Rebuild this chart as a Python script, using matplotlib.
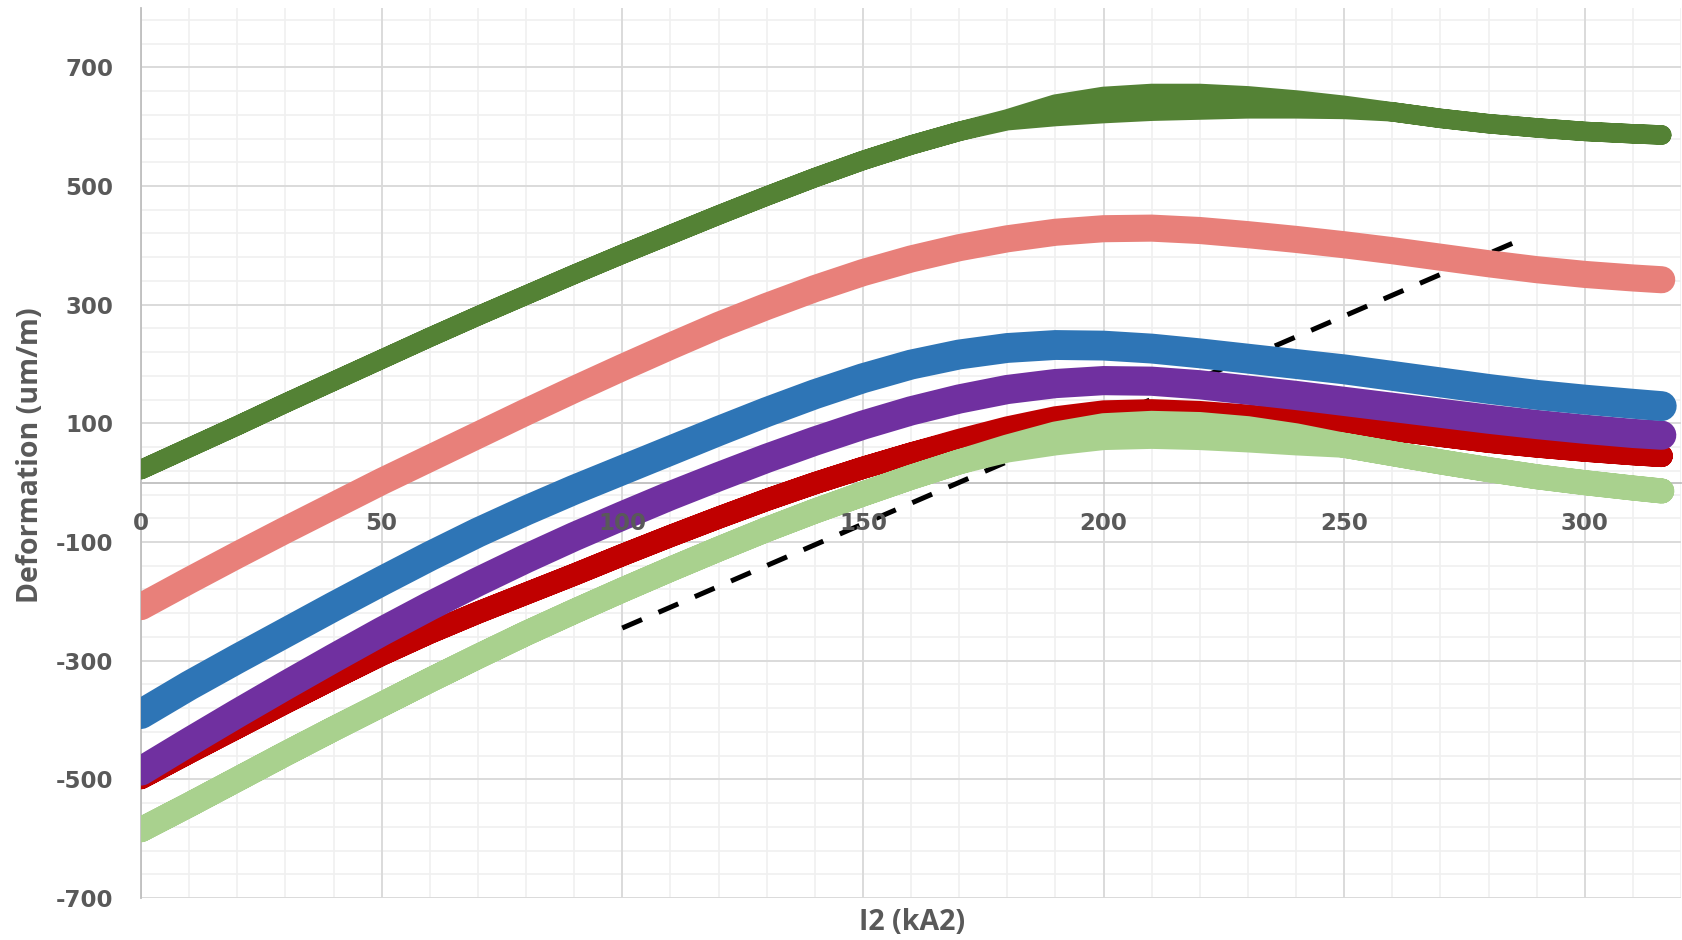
import numpy as np
import matplotlib.pyplot as plt
from matplotlib.ticker import FixedLocator

plt.rcParams['font.family'] = ['DejaVu Sans']
plt.rcParams['axes.unicode_minus'] = False

# I2 (kA2) sampling points
x_pts = [0, 10, 20, 30, 40, 50, 60, 70, 80, 90, 100, 110, 120, 130, 140, 150,
         160, 170, 180, 190, 200, 210, 220, 230, 240, 250, 260, 270, 280, 290,
         300, 310, 316]

# deformation (um/m); *_up / *_dn are the two branches where the loop opens
dark_green_up = [22, 59, 96, 134, 171, 208, 245, 281, 316, 351, 385, 418, 451,
                 483, 514, 543, 569, 592, 613, 638, 651, 656, 656, 652, 645,
                 636, 625, 614, 605, 598, 592, 588, 586]
dark_green_dn = [22, 59, 96, 134, 171, 208, 245, 281, 316, 351, 385, 418, 451,
                 483, 514, 543, 569, 592, 610, 617, 622, 626, 628, 630, 630,
                 629, 625, 614, 605, 598, 592, 588, 586]
salmon = [-209, -165, -122, -80, -39, 2, 41, 80, 119, 157, 194, 230, 265, 297,
          327, 354, 377, 396, 411, 422, 428, 429, 425, 418, 410, 401, 391, 380,
          369, 359, 351, 345, 342]
blue = [-390, -342, -297, -253, -209, -166, -124, -84, -47, -12, 21, 54, 87,
        119, 149, 176, 199, 216, 227, 232, 231, 226, 218, 209, 200, 191, 180,
        169, 158, 148, 140, 133, 129]
purple = [-486, -437, -389, -342, -296, -251, -208, -167, -128, -91, -56, -22,
          10, 41, 70, 97, 121, 141, 157, 167, 172, 171, 165, 156, 147, 137, 127,
          117, 107, 98, 90, 83, 80]
red_up = [-498, -455, -413, -371, -330, -290, -253, -219, -187, -155, -122,
          -90, -59, -29, -1, 25, 49, 72, 93, 110, 120, 122, 119, 113, 106, 98,
          89, 79, 69, 61, 54, 48, 45]
red_dn = [-498, -455, -413, -371, -330, -290, -253, -219, -187, -155, -122,
          -90, -59, -29, -1, 25, 49, 70, 80, 87, 91, 92, 91, 92, 97, 98, 89,
          79, 69, 61, 54, 48, 45]
light_green_up = [-585, -543, -500, -457, -415, -374, -333, -293, -254, -217,
                  -181, -146, -112, -79, -48, -19, 9, 35, 60, 82, 96, 100, 98,
                  91, 79, 63, 49, 35, 22, 10, 0, -9, -14]
light_green_dn = [-585, -543, -500, -457, -415, -374, -333, -293, -254, -217,
                  -181, -146, -112, -79, -48, -19, 9, 35, 55, 67, 76, 78, 76,
                  72, 67, 63, 49, 35, 22, 10, 0, -9, -14]

# dashed reference line
ref_x = [100, 286]
ref_y = [-245, 407]

y_ticks = [-700, -500, -300, -100, 100, 300, 500, 700]
x_ticks = [0, 50, 100, 150, 200, 250, 300]


def loop(up, dn):
    # out along one branch, back along the other
    xs = list(x_pts) + list(x_pts[::-1])
    ys = list(up) + list(dn[::-1])
    return xs, ys


fig = plt.figure(figsize=(16.83, 9.40), dpi=100)
ax = fig.add_axes([141 / 1683, 1 - 898 / 940, 1540 / 1683, 890 / 940])

# grid drawn by hand so the tick labels can sit above the curves
for v in np.arange(0, 321, 10):
    ax.axvline(v, color='#F0F0F0', lw=1.2, zorder=0)
for v in np.arange(-700, 800, 40):
    ax.axhline(v, color='#F0F0F0', lw=1.2, zorder=0)
for v in x_ticks:
    ax.axvline(v, color='#D9D9D9', lw=1.3, zorder=0.5)
for v in y_ticks:
    ax.axhline(v, color='#D9D9D9', lw=1.3, zorder=0.5)

ax.plot(ref_x, ref_y, color='black', lw=3.6, dashes=(4.3, 3.6),
        solid_capstyle='butt', zorder=2)

lines = [
    (loop(red_up, red_dn), '#C00000', 16, 3),
    (loop(light_green_up, light_green_dn), '#A9D18E', 18, 4),
    ((x_pts, purple), '#7030A0', 21, 5),
    ((x_pts, blue), '#2E75B6', 21.5, 6),
    ((x_pts, salmon), '#E8807A', 19.5, 7),
    (loop(dark_green_up, dark_green_dn), '#548235', 14, 8),
]
for (xs, ys), c, lw, z in lines:
    ax.plot(xs, ys, color=c, lw=lw, solid_capstyle='round',
            solid_joinstyle='round', zorder=z)

ax.set_xlim(0, 320)
ax.set_ylim(-700, 800)

ax.xaxis.set_major_locator(FixedLocator(x_ticks))
ax.yaxis.set_major_locator(FixedLocator(y_ticks))
ax.xaxis.set_zorder(20)
ax.yaxis.set_zorder(20)

for s in ['top', 'right']:
    ax.spines[s].set_visible(False)
ax.spines['bottom'].set_position(('data', 0))
ax.spines['bottom'].set_color('#BFBFBF')
ax.spines['bottom'].set_linewidth(1.3)
ax.spines['bottom'].set_zorder(1)
ax.spines['left'].set_color('#BFBFBF')
ax.spines['left'].set_linewidth(1.3)
ax.spines['left'].set_zorder(1)

ax.tick_params(which='both', length=0)
ax.tick_params(axis='x', pad=21, labelsize=16.5, labelcolor='#595959')
ax.tick_params(axis='y', pad=20, labelsize=16.5, labelcolor='#595959')
for lab in ax.get_xticklabels() + ax.get_yticklabels():
    lab.set_fontweight('bold')

fig.text(912 / 1683, 1 - 923 / 940, 'I2 (kA2)', ha='center', va='center',
         fontsize=20.5, fontweight='bold', color='#595959',
         family=['Open Sans', 'DejaVu Sans'])
fig.text(31 / 1683, 1 - 455 / 940, 'Deformation (um/m)', ha='center',
         va='center', rotation=90, fontsize=20.5, fontweight='bold',
         color='#595959', family=['Open Sans', 'DejaVu Sans'])

fig.savefig('out.png', dpi=100)
